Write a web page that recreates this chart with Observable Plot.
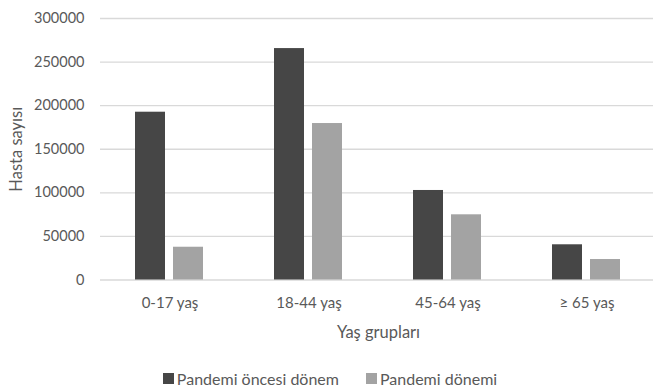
<!DOCTYPE html>
<html>
<head>
<meta charset="utf-8">
<script src="https://cdn.jsdelivr.net/npm/d3@7"></script>
<script src="https://cdn.jsdelivr.net/npm/@observablehq/plot@0.6"></script>
<style>
  body { margin: 0; background: #fff; font-family: Lato, sans-serif; }
  #chart { width: 653px; }
  #legend { width: 619px; display: flex; justify-content: center; padding-top: 9px; padding-left: 34px; }
  .lg-swatches { font-family: Lato, sans-serif; font-size: 16px; color: #595959; min-height: 0 !important; margin: 0 !important; }
  .lg-swatch { margin-right: 27px !important; }
  .lg-swatch svg { margin-right: 3px !important; }
</style>
</head>
<body>
<div id="chart"></div>
<div id="legend"></div>
<script>
// Age groups and the two periods compared
const ageGroups = ["0-17 yaş", "18-44 yaş", "45-64 yaş", "≥ 65 yaş"];
const periods = ["Pandemi öncesi dönem", "Pandemi dönemi"];

// Patient counts per age group
const beforePandemic = [192500, 265500, 102700, 40400];
const duringPandemic = [37600, 179500, 74800, 23500];

const yTicks = [0, 50000, 100000, 150000, 200000, 250000, 300000];
const periodColors = ["#464646", "#a3a3a3"];

const rows = ageGroups.flatMap((group, i) => [
  { group, period: periods[0], value: beforePandemic[i] },
  { group, period: periods[1], value: duringPandemic[i] }
]);

const chart = Plot.plot({
  width: 653,
  height: 360,
  marginLeft: 99,
  marginRight: 0,
  marginTop: 18,
  marginBottom: 80.5,
  style: { fontFamily: "Lato, sans-serif", fontSize: "14.5px", color: "#595959", background: "#fff" },
  fx: { domain: ageGroups, range: [99, 656], padding: 0, label: null },
  x: { domain: periods, paddingInner: 0.205, paddingOuter: 0.888, axis: null },
  y: { domain: [0, 300000], ticks: yTicks },
  color: { domain: periods, range: periodColors },
  marks: [
    Plot.gridY(yTicks, { stroke: "#d9d9d9", strokeOpacity: 1, strokeWidth: 1.3 }),
    Plot.barY(rows, { fx: "group", x: "period", y: "value", fill: "period" }),
    // tick labels
    Plot.axisY(yTicks, { tickSize: 0, tickPadding: 16, tickFormat: d => String(d), label: null }),
    Plot.axisFx({ anchor: "bottom", tickSize: 0, tickPadding: 17, label: null, fontSize: 15 }),
    // axis titles
    Plot.axisY([], {
      label: "Hasta sayısı", labelAnchor: "center", labelArrow: "none",
      labelOffset: 90, fontSize: 16.5
    }),
    Plot.axisX([], {
      anchor: "bottom", facetAnchor: null,
      label: "Yaş grupları", labelAnchor: "center", labelArrow: "none",
      labelOffset: 58, fontSize: 16.5
    })
  ]
});
document.getElementById("chart").append(chart);

const legend = chart.legend("color", { className: "lg", swatchSize: 11 });
document.getElementById("legend").append(legend);
</script>
</body>
</html>
